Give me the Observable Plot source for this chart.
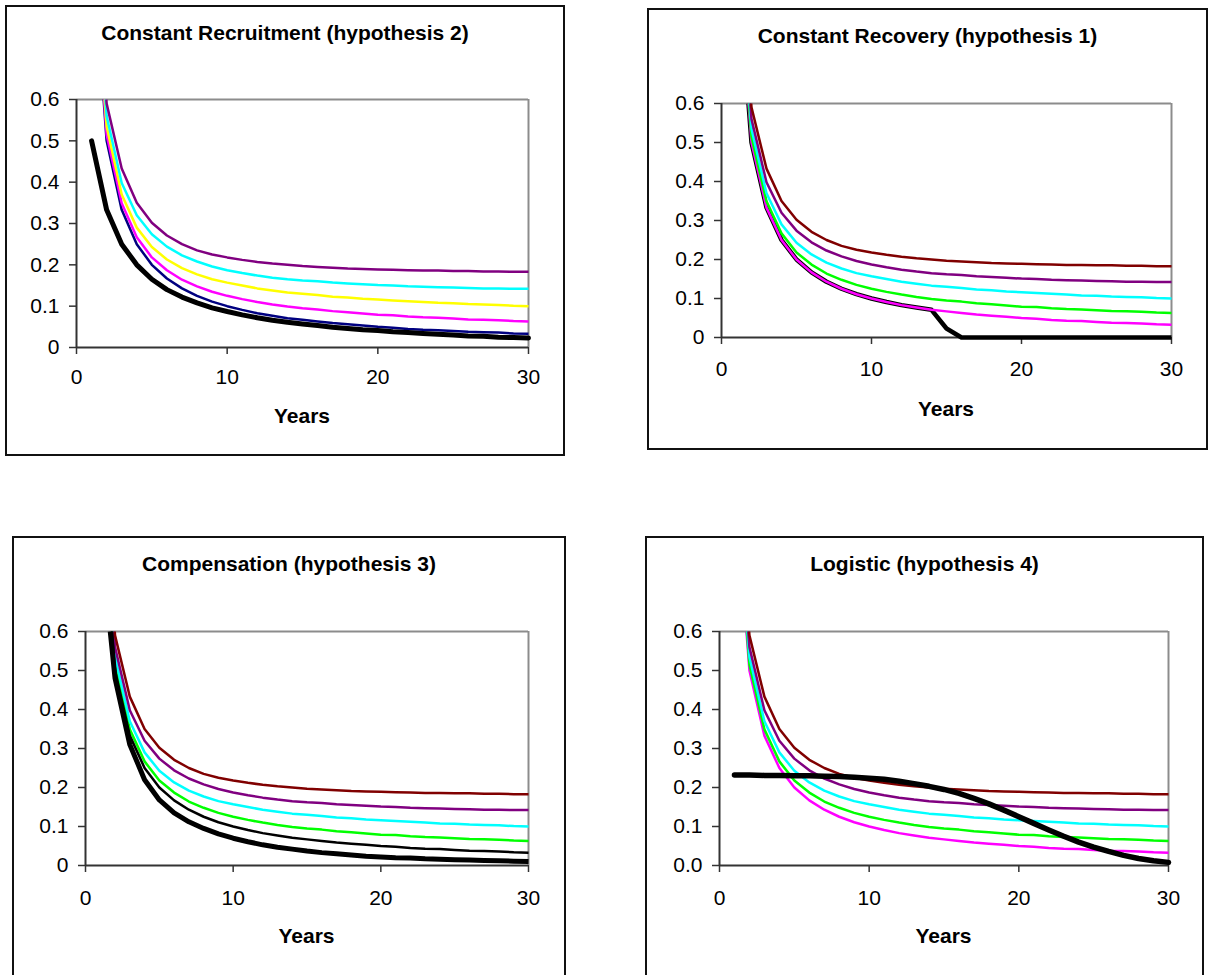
<!DOCTYPE html>
<html>
<head>
<meta charset="utf-8">
<script src="https://cdn.jsdelivr.net/npm/d3@7"></script>
<script src="https://cdn.jsdelivr.net/npm/@observablehq/plot@0.6"></script>
<style>
  html, body { margin: 0; padding: 0; background: #fff; overflow: hidden; }
  #root { position: relative; width: 1212px; height: 975px; overflow: hidden; font-family: "Liberation Sans", Arial, sans-serif; }
  .frame { position: absolute; border: 2px solid #111; box-sizing: border-box; }
  .lbl { position: absolute; transform: translate(-50%, -50%); font-weight: bold; font-size: 21px; line-height: 1; white-space: nowrap; color: #000; }
  svg { position: absolute; overflow: visible; }
</style>
</head>
<body>
<div id="root"></div>
<script>
// ---------------- data ----------------
const years = [1,2,3,4,5,6,7,8,9,10,11,12,13,14,15,16,17,18,19,20,21,22,23,24,25,26,27,28,29,30];

// shared family of recovery curves (ending near 0.033, 0.063, 0.10, 0.142, 0.183)
const curveEnd033 = [1.000,0.500,0.333,0.250,0.200,0.167,0.143,0.125,0.111,0.100,0.091,0.083,0.077,0.071,0.067,0.063,0.059,0.056,0.053,0.050,0.048,0.045,0.043,0.042,0.040,0.038,0.037,0.036,0.034,0.033];
const curveEnd063 = [1.010,0.515,0.349,0.267,0.218,0.187,0.164,0.148,0.135,0.125,0.117,0.110,0.104,0.099,0.095,0.092,0.088,0.085,0.082,0.079,0.078,0.075,0.073,0.072,0.070,0.068,0.067,0.066,0.064,0.063];
const curveEnd100 = [1.030,0.535,0.370,0.290,0.243,0.213,0.192,0.177,0.165,0.157,0.150,0.143,0.138,0.133,0.130,0.127,0.123,0.121,0.118,0.116,0.114,0.112,0.110,0.108,0.107,0.105,0.104,0.103,0.101,0.100];
const curveEnd142 = [1.050,0.560,0.398,0.320,0.274,0.244,0.223,0.208,0.196,0.187,0.180,0.174,0.169,0.165,0.162,0.160,0.157,0.155,0.153,0.151,0.150,0.148,0.147,0.146,0.145,0.144,0.143,0.143,0.142,0.142];
const curveEnd183 = [1.100,0.590,0.433,0.350,0.302,0.271,0.250,0.235,0.225,0.218,0.212,0.207,0.203,0.200,0.197,0.195,0.193,0.191,0.190,0.189,0.188,0.187,0.186,0.186,0.185,0.185,0.184,0.184,0.183,0.183];

// black (observed) series of each panel
const recruitmentBlack = [0.500,0.333,0.250,0.200,0.165,0.140,0.122,0.108,0.096,0.087,0.079,0.072,0.066,0.061,0.057,0.053,0.049,0.046,0.043,0.041,0.038,0.036,0.034,0.032,0.030,0.028,0.027,0.025,0.024,0.023];
const recoveryBlack = [1.000,0.500,0.333,0.250,0.200,0.167,0.143,0.125,0.111,0.100,0.091,0.083,0.077,0.071,0.023,0,0,0,0,0,0,0,0,0,0,0,0,0,0,0];
const compensationBlack = [0.850,0.480,0.310,0.220,0.168,0.135,0.112,0.095,0.081,0.070,0.061,0.053,0.047,0.042,0.037,0.033,0.030,0.027,0.024,0.022,0.020,0.019,0.017,0.016,0.015,0.014,0.013,0.012,0.011,0.010];
const logisticBlack = [0.232,0.232,0.231,0.231,0.230,0.230,0.229,0.228,0.226,0.224,0.221,0.216,0.210,0.203,0.195,0.185,0.172,0.158,0.142,0.125,0.108,0.091,0.075,0.060,0.047,0.036,0.026,0.018,0.012,0.008];

// tick values and labels
const xTicks = [0, 10, 20, 30];
const yTicks = [0, 0.1, 0.2, 0.3, 0.4, 0.5, 0.6];
const titles = ["Constant Recruitment (hypothesis 2)", "Constant Recovery (hypothesis 1)", "Compensation (hypothesis 3)", "Logistic (hypothesis 4)"];
const xLabel = "Years";

// ---------------- layout / styles ----------------
const fmtPlain = d => d === 0 ? "0" : d3.format(".1f")(d);
const fmtOne = d3.format(".1f");

const panels = [
  { title: titles[0], box: {l: 5, t: 5, r: 565, b: 456}, plot: {l: 76, t: 99, r: 528, b: 347}, titleY: 32, labelY: 415, xPad: 15, fmt: fmtPlain,
    series: [
      {v: curveEnd033, c: "#000080", w: 2.5},
      {v: curveEnd063, c: "#ff00ff", w: 2.5},
      {v: curveEnd100, c: "#ffff00", w: 2.5},
      {v: curveEnd142, c: "#00ffff", w: 2.5},
      {v: curveEnd183, c: "#800080", w: 2.5},
      {v: recruitmentBlack, c: "#000", w: 5, cap: "round"}
    ]},
  { title: titles[1], box: {l: 647, t: 8, r: 1208, b: 450}, plot: {l: 721, t: 103, r: 1171, b: 337}, titleY: 35, labelY: 408, xPad: 17, fmt: fmtPlain,
    series: [
      {v: recoveryBlack, c: "#000", w: 4.5},
      {v: curveEnd033, c: "#ff00ff", w: 2.5},
      {v: curveEnd063, c: "#00ff00", w: 2.5},
      {v: curveEnd100, c: "#00ffff", w: 2.5},
      {v: curveEnd142, c: "#800080", w: 2.5},
      {v: curveEnd183, c: "#800000", w: 2.5}
    ]},
  { title: titles[2], box: {l: 12, t: 536, r: 566, b: 1000}, plot: {l: 85, t: 631, r: 528, b: 865}, titleY: 563, labelY: 935, xPad: 18, fmt: fmtPlain,
    series: [
      {v: curveEnd063, c: "#00ff00", w: 2.5},
      {v: curveEnd100, c: "#00ffff", w: 2.5},
      {v: curveEnd142, c: "#800080", w: 2.5},
      {v: curveEnd183, c: "#800000", w: 2.5},
      {v: curveEnd033, c: "#000", w: 2.5},
      {v: compensationBlack, c: "#000", w: 5}
    ]},
  { title: titles[3], box: {l: 645, t: 536, r: 1204, b: 1000}, plot: {l: 719, t: 631, r: 1168, b: 865}, titleY: 563, labelY: 935, xPad: 18, fmt: fmtOne,
    series: [
      {v: curveEnd033, c: "#ff00ff", w: 2.5},
      {v: curveEnd063, c: "#00ff00", w: 2.5},
      {v: curveEnd100, c: "#00ffff", w: 2.5},
      {v: curveEnd142, c: "#800080", w: 2.5},
      {v: curveEnd183, c: "#800000", w: 2.5},
      {v: logisticBlack, c: "#000", w: 5.5, cap: "round"}
    ]}
];

const Y_MAX = 0.6;
// keep the part of a series that lies inside the value axis range (Excel-style clipping at the top)
function clipTop(xs, ys, ymax) {
  const out = [];
  for (let i = 0; i < xs.length; i++) {
    const y = ys[i];
    const prev = i > 0 ? ys[i - 1] : null;
    if (y <= ymax) {
      if (prev !== null && prev > ymax) {
        const t = (prev - ymax) / (prev - y);
        out.push({x: xs[i - 1] + t * (xs[i] - xs[i - 1]), y: ymax});
      }
      out.push({x: xs[i], y});
    } else if (prev !== null && prev <= ymax) {
      const t = (ymax - prev) / (y - prev);
      out.push({x: xs[i - 1] + t * (xs[i] - xs[i - 1]), y: ymax});
    }
  }
  return out;
}

const root = document.getElementById("root");
const VIEW_H = 975;

for (const p of panels) {
  const frame = document.createElement("div");
  frame.className = "frame";
  Object.assign(frame.style, {left: p.box.l + "px", top: p.box.t + "px", width: (p.box.r - p.box.l) + "px", height: (p.box.b - p.box.t) + "px"});
  root.appendChild(frame);

  const svgTop = p.box.t + 2;
  const svgBottom = Math.min(p.box.b - 2, VIEW_H);
  const svgLeft = p.box.l + 2;
  const svgRight = p.box.r - 2;

  const marks = [
    Plot.ruleY([Y_MAX], {stroke: "#8c8c8c", strokeWidth: 2}),
    Plot.ruleX([30], {stroke: "#8c8c8c", strokeWidth: 2}),
    Plot.axisY({ticks: yTicks, tickFormat: p.fmt, tickSize: 7, tickPadding: 10, label: null, stroke: "#333", strokeWidth: 1.5}),
    Plot.axisX({ticks: xTicks, tickSize: 7, tickPadding: p.xPad, label: null, stroke: "#333", strokeWidth: 1.5}),
    Plot.ruleX([0], {stroke: "#333", strokeWidth: 2}),
    Plot.ruleY([0], {stroke: "#333", strokeWidth: 2})
  ];
  for (const s of p.series) {
    marks.push(Plot.line(clipTop(years, s.v, Y_MAX), {x: "x", y: "y", stroke: s.c, strokeWidth: s.w, strokeLinejoin: "round", strokeLinecap: s.cap || "butt"}));
  }

  const chart = Plot.plot({
    width: svgRight - svgLeft,
    height: svgBottom - svgTop,
    marginLeft: p.plot.l - svgLeft,
    marginRight: svgRight - p.plot.r,
    marginTop: p.plot.t - svgTop,
    marginBottom: svgBottom - p.plot.b,
    x: {domain: [0, 30]},
    y: {domain: [0, Y_MAX]},
    style: {fontFamily: "'Liberation Sans', Arial, sans-serif", fontSize: "21px", color: "#000", background: "transparent", overflow: "visible"},
    marks
  });
  chart.style.left = svgLeft + "px";
  chart.style.top = svgTop + "px";
  root.appendChild(chart);

  const t = document.createElement("div");
  t.className = "lbl";
  t.textContent = p.title;
  t.style.left = ((p.box.l + p.box.r) / 2) + "px";
  t.style.top = p.titleY + "px";
  root.appendChild(t);

  const yl = document.createElement("div");
  yl.className = "lbl";
  yl.textContent = xLabel;
  yl.style.left = ((p.plot.l + p.plot.r) / 2) + "px";
  yl.style.top = p.labelY + "px";
  root.appendChild(yl);
}
</script>
</body>
</html>
